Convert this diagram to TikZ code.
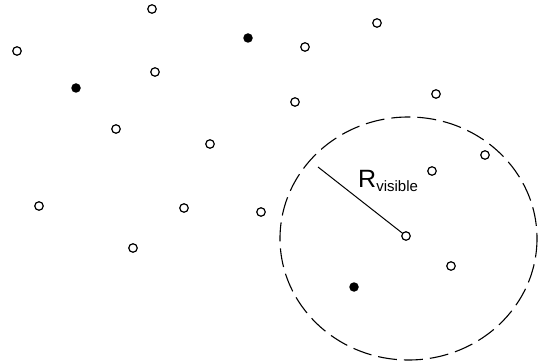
\documentclass[tikz,border=0pt]{standalone}
\usepackage{fontspec}
\setmainfont{Liberation Sans}
\begin{document}
\begin{tikzpicture}[x=1pt,y=-1pt,
  opendot/.style={circle,draw=black,line width=1.2pt,fill=white,minimum size=8.5pt,inner sep=0pt},
  fulldot/.style={circle,fill=black,minimum size=9.5pt,inner sep=0pt},
  rangeline/.style={draw=black,line width=1.1pt,dash pattern=on 19pt off 7pt},
  radline/.style={draw=black,line width=1pt}]
\useasboundingbox (0,0) rectangle (545,363);
% range ellipse
\draw[rangeline] (408.5,238.5) ellipse [x radius=128.5, y radius=121.5];
% open dots
\node[opendot] (o1) at (152,9) {};
\node[opendot] (o2) at (17,51) {};
\node[opendot] (o3) at (155,72) {};
\node[opendot] (o4) at (305,47) {};
\node[opendot] (o5) at (377,23) {};
\node[opendot] (o6) at (295,102) {};
\node[opendot] (o7) at (436,94) {};
\node[opendot] (o8) at (116,129) {};
\node[opendot] (o9) at (210,144) {};
\node[opendot] (o10) at (432,171) {};
\node[opendot] (o11) at (485,155) {};
\node[opendot] (o12) at (39,206) {};
\node[opendot] (o13) at (184,208) {};
\node[opendot] (o14) at (261,212) {};
\node[opendot] (o15) at (133,248) {};
\node[opendot] (c) at (406,236) {};
\node[opendot] (o16) at (451,266) {};
% filled dots
\node[fulldot] (f1) at (76,88) {};
\node[fulldot] (f2) at (248,38) {};
\node[fulldot] (f3) at (354,287) {};
% radius
\coordinate (rend) at (318,167);
\draw[radline] (c) -- (rend);
\node[anchor=base west,inner sep=0pt,font=\fontsize{25}{25}\selectfont] (lbl) at (358,188) {R\raisebox{-4pt}{\fontsize{15}{15}\selectfont visible}};
\end{tikzpicture}
\end{document}
